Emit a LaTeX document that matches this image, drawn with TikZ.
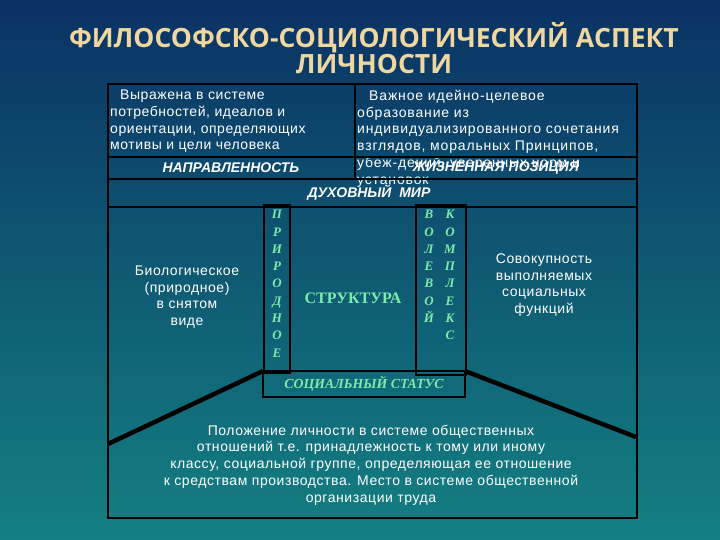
\documentclass[tikz,border=0pt]{standalone}
\usepackage{fontspec}
\setmainfont{Liberation Sans}
\newfontfamily\titlefont{Open Sans}
\newfontfamily\bodyfont[LetterSpace=4]{Liberation Sans}
\newfontfamily\widefont[LetterSpace=6]{Liberation Sans}
\newfontfamily\greenfont{Liberation Serif}
\usetikzlibrary{positioning}

\definecolor{bgtop}{RGB}{10,50,100}
\definecolor{bgbot}{RGB}{20,128,130}
\definecolor{titlegold}{RGB}{240,215,160}
\definecolor{labelgreen}{RGB}{125,235,170}

\begin{document}
\begin{tikzpicture}[x=1pt,y=-1pt,
	cell/.style={draw=black,line width=2.5pt,inner sep=0pt,outer sep=0pt,anchor=north west},
	body text/.style={text=white,inner sep=0pt,font=\bodyfont\fontsize{14}{16.7}\selectfont},
	caption/.style={text=white,inner sep=0pt,font=\bfseries\itshape\fontsize{14}{16}\selectfont},
	green text/.style={text=labelgreen,inner sep=0pt,font=\greenfont\bfseries\fontsize{16}{18}\selectfont},
	letters/.style={text=labelgreen,inner sep=0pt,anchor=north,align=center,
		font=\greenfont\bfseries\itshape\fontsize{13}{17.3}\selectfont}]
	
	\shade[top color=bgtop,bottom color=bgbot] (0,0) rectangle (720,540);
	\useasboundingbox (0,0) rectangle (720,540);
	
	% title
	\node[text=titlegold,align=center,font=\titlefont\bfseries\fontsize{26.5}{24}\selectfont] (title) at (374,48)
	{ФИЛОСОФСКО-СОЦИОЛОГИЧЕСКИЙ АСПЕКТ\\ЛИЧНОСТИ};
	
	% texts of the upper row
	\node[body text,align=left,anchor=north west] (needs text) at (110,90)
	{\hspace*{10pt}Выражена в системе\\потребностей, идеалов и\\ориентации, определяющих\\мотивы и цели человека};
	\node[body text,align=left,anchor=north west,font=\widefont\fontsize{14}{16.7}\selectfont] (pos text) at (357,90)
	{\hspace*{12pt}Важное идейно-целевое\\образование из\\индивидуализированного сочетания\\взглядов, моральных Принципов,\\убеж-дений, уверенных норм и\\установок};
	
	% cells
	\node[cell,minimum width=247,minimum height=73] (needs) at (108,84) {};
	\node[cell,minimum width=282,minimum height=73] (pos) at (355,84) {};
	\node[cell,minimum width=247,minimum height=22] (naprlab) at (108,157) {};
	\node[cell,minimum width=282,minimum height=22] (poslab) at (355,157) {};
	\node[cell,minimum width=529,minimum height=28] (mir) at (108,179) {};
	\node[cell,minimum width=529,minimum height=311] (struct) at (108,207) {};
	\node[cell,minimum width=26,minimum height=168] (prir) at (264,205) {};
	\node[cell,minimum width=50,minimum height=170] (vol) at (416,205) {};
	\node[cell,minimum width=202,minimum height=26] (status) at (263,371) {};
	
	\coordinate (lend) at (108,444);
	\coordinate (rend) at (636,437);
	\path[line width=4.5pt,draw=black]
	(status.north west) edge (lend)
	(status.north east) edge (rend);
	
	% captions
	\node[caption] (napr) at (231,168) {НАПРАВЛЕННОСТЬ};
	\node[caption] (zhp) at (496,168) {ЖИЗНЕННАЯ ПОЗИЦИЯ};
	\node[caption] (dm) at (369,193) {ДУХОВНЫЙ\ \ МИР};
	
	\node[body text,align=center] (bio) at (187,297)
	{Биологическое\\(природное)\\в снятом\\виде};
	\node[letters] (prirtxt) at (277,210) {П\\Р\\И\\Р\\О\\Д\\Н\\О\\Е};
	\node[green text] (structtxt) at (353,298) {СТРУКТУРА};
	\node[letters] (voltxt) at (429,210) {В\\О\\Л\\Е\\В\\О\\Й};
	\node[letters] (komptxt) at (450,210) {К\\О\\М\\П\\Л\\Е\\К\\С};
	\node[body text,align=center] (func) at (544,285)
	{Совокупность\\выполняемых\\социальных\\функций};
	
	\node[green text,font=\greenfont\bfseries\itshape\fontsize{13.8}{15}\selectfont] (statustxt) at (364,384) {СОЦИАЛЬНЫЙ СТАТУС};
	\node[body text,align=center] (place) at (371,465)
	{Положение личности в системе общественных\\отношений т.е. принадлежность к тому или иному\\классу, социальной группе, определяющая ее отношение\\к средствам производства. Место в системе общественной\\организации труда};
\end{tikzpicture}
\end{document}
